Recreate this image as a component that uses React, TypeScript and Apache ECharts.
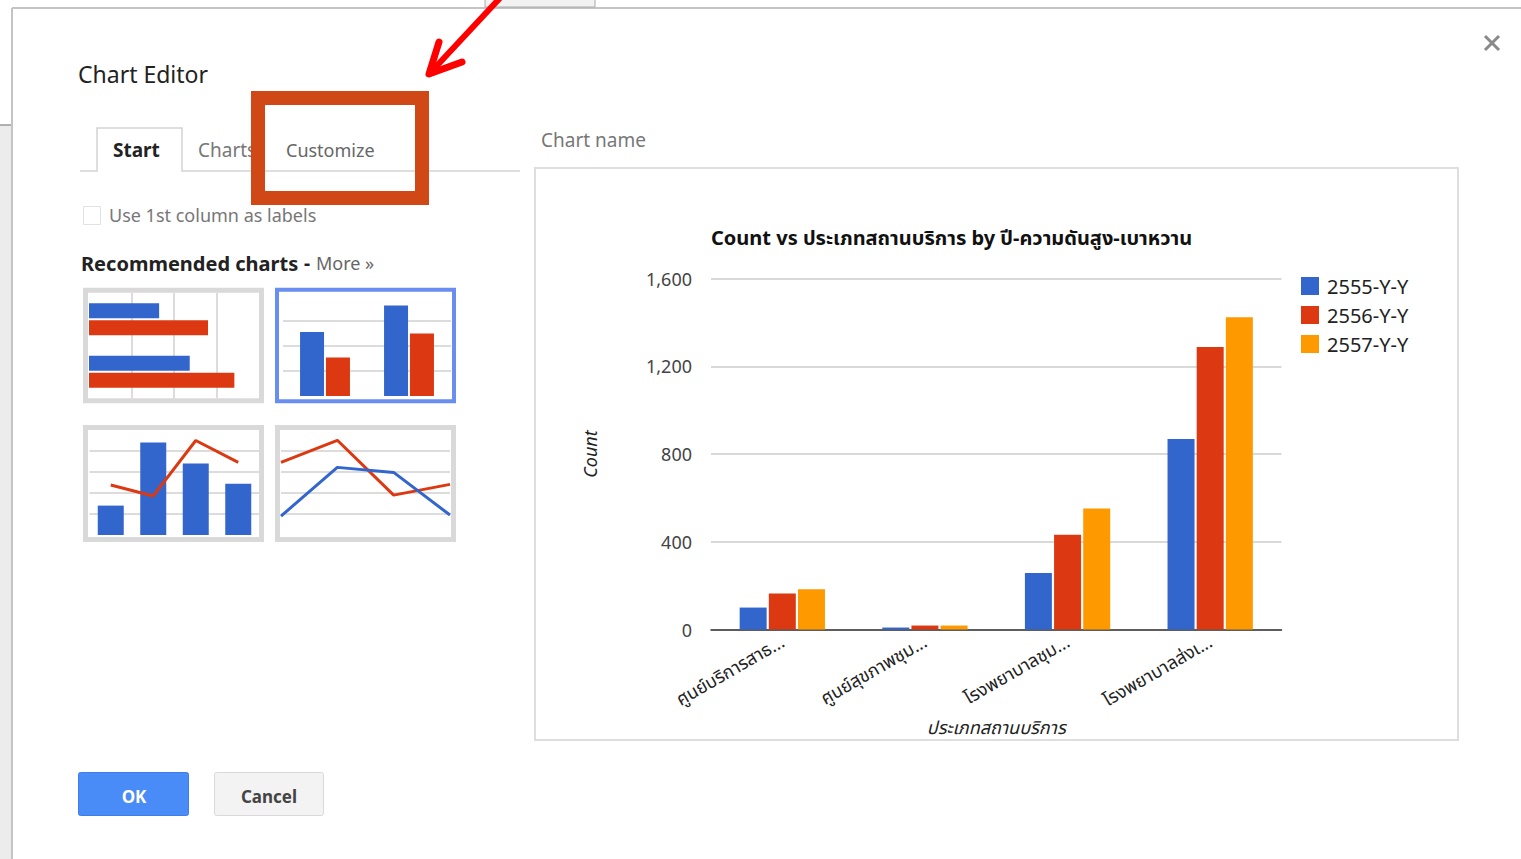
import React, { useEffect, useRef } from "react";
import * as echarts from "echarts";

// ---- main chart data ----
const categories = ["ศูนย์บริการสาธ...", "ศูนย์สุขภาพชุม...", "โรงพยาบาลชุม...", "โรงพยาบาลส่งเ..."];
const seriesNames = ["2555-Y-Y", "2556-Y-Y", "2557-Y-Y"];
const values2555 = [100, 9, 258, 868];
const values2556 = [164, 18, 432, 1288];
const values2557 = [184, 18, 552, 1423];
const yTicks = [0, 400, 800, 1200, 1600];
const colors = ["#3366cc", "#dc3912", "#ff9900"];

// ---- thumbnail icon data ----
const thumbHBarCats = ["a", "b"];
const thumbHBarBlue = [1.65, 2.37];
const thumbHBarRed = [2.8, 3.42];
const thumbColCats = ["a", "b"];
const thumbColBlue = [2.56, 3.62];
const thumbColRed = [1.54, 2.5];
const thumbComboCats = ["a", "b", "c", "d"];
const thumbComboBars = [1.4, 4.41, 3.41, 2.44];
const thumbComboLine = [2.38, 1.86, 4.5, 3.46];
const thumbLineCats = ["a", "b", "c", "d"];
const thumbLineRed = [3.46, 4.51, 1.9, 2.41];
const thumbLineBlue = [0.9, 3.22, 2.98, 0.95];

const FONT = "'Noto Sans', 'Noto Sans Thai', 'DejaVu Sans', sans-serif";

const hiddenAxis = {
  axisLine: { show: false },
  axisTick: { show: false },
  axisLabel: { show: false },
};

function txt(text: string, x: number, y: number, opts: any = {}) {
  return {
    type: "text",
    x,
    y,
    z: 50,
    style: {
      text,
      fill: opts.fill || "#222",
      fontSize: opts.fontSize || 18,
      fontWeight: opts.fontWeight || "normal",
      fontFamily: FONT,
      align: opts.align || "left",
      verticalAlign: "middle",
    },
  };
}

export default function App() {
  const ref = useRef<HTMLDivElement>(null);

  useEffect(() => {
    if (!ref.current) return;
    const chart = echarts.init(ref.current, undefined, { renderer: "svg" });

    const thumbSplit = { show: true, showMinLine: false, showMaxLine: false, lineStyle: { color: "#dcdcdc", width: 2 } };

    const option: any = {
      animation: false,
      backgroundColor: "#ffffff",
      textStyle: { fontFamily: FONT },
      title: {
        text: "Count vs ประเภทสถานบริการ by ปี-ความดันสูง-เบาหวาน",
        left: 706,
        top: 222,
        textStyle: { fontSize: 20, fontWeight: "bold", color: "#111", fontFamily: FONT },
      },
      legend: {
        data: seriesNames,
        orient: "vertical",
        left: 1296,
        top: 271,
        icon: "rect",
        itemWidth: 18,
        itemHeight: 18,
        itemGap: 9,
        textStyle: { fontSize: 20, color: "#222", fontFamily: FONT, padding: [0, 0, 0, 3] },
      },
      grid: [
        { left: 711, top: 278.5, width: 570.5, height: 351 },
        { left: 89, top: 293, width: 170, height: 105 },
        { left: 283, top: 296, width: 168, height: 100 },
        { left: 89.5, top: 430, width: 170, height: 105 },
        { left: 281, top: 430, width: 169, height: 105 },
      ],
      xAxis: [
        {
          gridIndex: 0,
          type: "category",
          data: categories,
          axisLine: { show: true, lineStyle: { color: "#333", width: 1.5 } },
          axisTick: { show: false },
          axisLabel: { rotate: 30, fontSize: 18, color: "#222", margin: 10, interval: 0, fontFamily: FONT },
          name: "ประเภทสถานบริการ",
          nameLocation: "middle",
          nameGap: 88,
          nameTextStyle: { fontSize: 18, fontStyle: "italic", color: "#222", fontFamily: FONT },
        },
        { gridIndex: 1, type: "value", min: 0, max: 4, interval: 1, ...hiddenAxis, splitLine: thumbSplit },
        { gridIndex: 2, type: "category", data: thumbColCats, ...hiddenAxis, splitLine: { show: false } },
        { gridIndex: 3, type: "category", data: thumbComboCats, ...hiddenAxis, splitLine: { show: false } },
        { gridIndex: 4, type: "category", data: thumbLineCats, boundaryGap: false, ...hiddenAxis, splitLine: { show: false } },
      ],
      yAxis: [
        {
          gridIndex: 0,
          type: "value",
          min: yTicks[0],
          max: yTicks[yTicks.length - 1],
          interval: yTicks[1] - yTicks[0],
          axisLine: { show: false },
          axisTick: { show: false },
          axisLabel: { fontSize: 18, color: "#444", margin: 19, fontFamily: FONT },
          splitLine: { lineStyle: { color: "#cccccc", width: 1.5 } },
          name: "Count",
          nameLocation: "middle",
          nameGap: 112,
          nameTextStyle: { fontSize: 18, fontStyle: "italic", color: "#222", fontFamily: FONT },
        },
        { gridIndex: 1, type: "category", data: thumbHBarCats, inverse: true, ...hiddenAxis, splitLine: { show: false } },
        { gridIndex: 2, type: "value", min: 0, max: 4, interval: 1, ...hiddenAxis, splitLine: thumbSplit },
        { gridIndex: 3, type: "value", min: 0, max: 5, interval: 1, ...hiddenAxis, splitLine: thumbSplit },
        { gridIndex: 4, type: "value", min: 0, max: 5, interval: 1, ...hiddenAxis, splitLine: thumbSplit },
      ],
      series: [
        ...[values2555, values2556, values2557].map((vals, i) => ({
          name: seriesNames[i],
          type: "bar",
          xAxisIndex: 0,
          yAxisIndex: 0,
          data: vals,
          barWidth: 27,
          barGap: "8%",
          itemStyle: { color: colors[i] },
        })),
        { type: "bar", xAxisIndex: 1, yAxisIndex: 1, data: thumbHBarBlue, barWidth: 15, barGap: "13%", itemStyle: { color: colors[0] } },
        { type: "bar", xAxisIndex: 1, yAxisIndex: 1, data: thumbHBarRed, barWidth: 15, barGap: "13%", itemStyle: { color: colors[1] } },
        { type: "bar", xAxisIndex: 2, yAxisIndex: 2, data: thumbColBlue, barWidth: 24, barGap: "8%", itemStyle: { color: colors[0] } },
        { type: "bar", xAxisIndex: 2, yAxisIndex: 2, data: thumbColRed, barWidth: 24, barGap: "8%", itemStyle: { color: colors[1] } },
        { type: "bar", xAxisIndex: 3, yAxisIndex: 3, data: thumbComboBars, barWidth: 26, itemStyle: { color: colors[0] } },
        { type: "line", xAxisIndex: 3, yAxisIndex: 3, data: thumbComboLine, showSymbol: false, lineStyle: { color: colors[1], width: 3 }, z: 5 },
        { type: "line", xAxisIndex: 4, yAxisIndex: 4, data: thumbLineRed, showSymbol: false, lineStyle: { color: colors[1], width: 3 } },
        { type: "line", xAxisIndex: 4, yAxisIndex: 4, data: thumbLineBlue, showSymbol: false, lineStyle: { color: colors[0], width: 3 } },
      ],
      graphic: [
        // page background / dialog edges
        { type: "rect", shape: { x: 0, y: 125, width: 12, height: 734 }, style: { fill: "#ececec" }, z: 1 },
        { type: "line", shape: { x1: 0, y1: 125, x2: 12, y2: 125 }, style: { stroke: "#999", lineWidth: 1.5 }, z: 1 },
        { type: "line", shape: { x1: 12, y1: 8, x2: 12, y2: 859 }, style: { stroke: "#c4c4c4", lineWidth: 2 }, z: 1 },
        { type: "line", shape: { x1: 12, y1: 8, x2: 1521, y2: 8 }, style: { stroke: "#c4c4c4", lineWidth: 2 }, z: 1 },
        { type: "rect", shape: { x: 485, y: -2, width: 110, height: 9 }, style: { fill: "#f2f2f2", stroke: "#aaa", lineWidth: 1 }, z: 1 },
        // close icon
        { type: "line", shape: { x1: 1485, y1: 36, x2: 1499, y2: 50 }, style: { stroke: "#8a8a8a", lineWidth: 3 }, z: 2 },
        { type: "line", shape: { x1: 1499, y1: 36, x2: 1485, y2: 50 }, style: { stroke: "#8a8a8a", lineWidth: 3 }, z: 2 },
        // headings
        txt("Chart Editor", 78, 74, { fontSize: 23, fill: "#222" }),
        txt("Chart name", 541, 140, { fontSize: 19, fill: "#777" }),
        // tabs
        { type: "polyline", shape: { points: [[80, 171], [97, 171], [97, 128], [182, 128], [182, 171], [520, 171]] }, style: { stroke: "#d4d4d4", lineWidth: 1.5, fill: null }, z: 2 },
        txt("Start", 113, 150, { fontSize: 19, fontWeight: "bold", fill: "#222" }),
        txt("Charts", 198, 150, { fontSize: 19, fill: "#777" }),
        txt("Customize", 286, 150, { fontSize: 18, fill: "#666" }),
        // checkbox
        { type: "rect", shape: { x: 83.5, y: 206.5, width: 17, height: 18 }, style: { fill: "#fff", stroke: "#e2e2e2", lineWidth: 1 }, z: 2 },
        txt("Use 1st column as labels", 109, 215, { fontSize: 18, fill: "#777" }),
        txt("Recommended charts", 81, 263, { fontSize: 20, fontWeight: "bold", fill: "#222" }),
        txt("-", 304, 263, { fontSize: 19, fontWeight: "bold", fill: "#222" }),
        txt("More »", 316, 263, { fontSize: 18, fill: "#666" }),
        // thumbnail frames
        { type: "rect", shape: { x: 85.5, y: 290.2, width: 176, height: 110.6 }, style: { fill: null, stroke: "#d9d9d9", lineWidth: 5 }, z: 100 },
        { type: "rect", shape: { x: 277, y: 289.7, width: 177, height: 111.6 }, style: { fill: null, stroke: "#6a8ef0", lineWidth: 4 }, z: 100 },
        { type: "rect", shape: { x: 85.5, y: 427.5, width: 176, height: 112 }, style: { fill: null, stroke: "#d9d9d9", lineWidth: 5 }, z: 100 },
        { type: "rect", shape: { x: 277.5, y: 427.5, width: 176, height: 112 }, style: { fill: null, stroke: "#d9d9d9", lineWidth: 5 }, z: 100 },
        // chart preview frame
        { type: "rect", shape: { x: 535, y: 168, width: 923, height: 572 }, style: { fill: null, stroke: "#dedede", lineWidth: 2 }, z: 1 },
        // buttons
        { type: "rect", shape: { x: 78.5, y: 772.5, width: 110, height: 43, r: 2 }, style: { fill: "#4a8cf7", stroke: "#3d7ee8", lineWidth: 1 }, z: 2 },
        txt("OK", 134, 796, { fontSize: 17, fontWeight: "bold", fill: "#ffffff", align: "center" }),
        { type: "rect", shape: { x: 214.5, y: 772.5, width: 109, height: 43, r: 2 }, style: { fill: "#f3f3f3", stroke: "#d9d9d9", lineWidth: 1 }, z: 2 },
        txt("Cancel", 269, 796, { fontSize: 17, fontWeight: "bold", fill: "#444", align: "center" }),
        // highlight box + arrow
        { type: "rect", shape: { x: 258, y: 98, width: 164, height: 100 }, style: { fill: null, stroke: "#cf4816", lineWidth: 14 }, z: 120 },
        { type: "line", shape: { x1: 500, y1: -2, x2: 431, y2: 72 }, style: { stroke: "#ff0000", lineWidth: 6, lineCap: "round" }, z: 120 },
        { type: "polyline", shape: { points: [[439, 42], [429, 74], [462, 62]] }, style: { stroke: "#ff0000", lineWidth: 7, lineCap: "round", lineJoin: "round", fill: null }, z: 120 },
      ],
    };

    chart.setOption(option);
    return () => chart.dispose();
  }, []);

  return (
    <div
      ref={ref}
      style={{ position: "absolute", left: 0, top: 0, width: 1521, height: 859, background: "#fff" }}
    />
  );
}
